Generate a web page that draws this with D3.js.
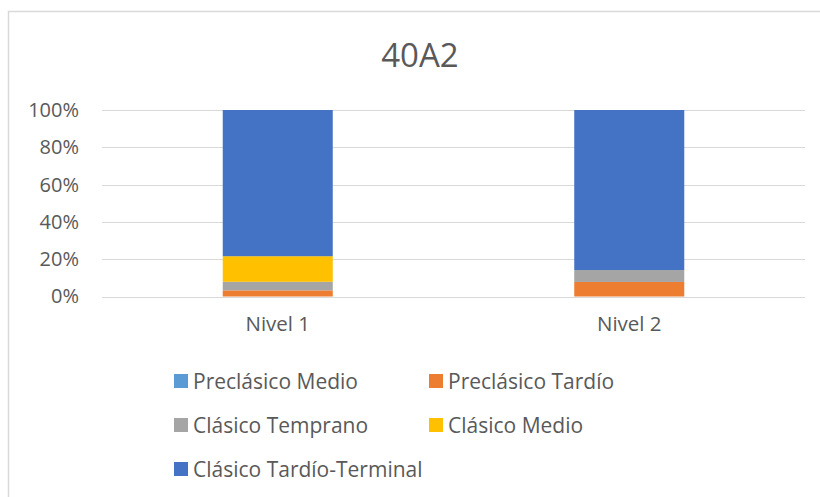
<!DOCTYPE html>
<html><head><meta charset="utf-8">
<script src="https://cdn.jsdelivr.net/npm/d3@7"></script>
<style>body{margin:0;background:#fff;} svg{display:block;font-family:"Open Sans",sans-serif;}</style>
</head><body>
<svg id="chart" width="820" height="497"></svg>
<script>
const categories = ["Nivel 1", "Nivel 2"];
const seriesNames = ["Preclásico Medio", "Preclásico Tardío", "Clásico Temprano", "Clásico Medio", "Clásico Tardío-Terminal"];
const seriesColors = ["#5B9BD5", "#ED7D31", "#A5A5A5", "#FFC000", "#4472C4"];
const preclasicoMedio = [0, 0];
const preclasicoTardio = [3.3, 7.8];
const clasicoTemprano = [4.6, 6.4];
const clasicoMedio = [13.7, 0];
const clasicoTardioTerminal = [78.4, 85.8];
const tickLabels = ["0%", "20%", "40%", "60%", "80%", "100%"];
const tickValues = [0, 20, 40, 60, 80, 100];

(function () {
const seriesValues = [preclasicoMedio, preclasicoTardio, clasicoTemprano, clasicoMedio, clasicoTardioTerminal];
const rows = categories.map((c, i) => {
  const r = {cat: c};
  seriesNames.forEach((s, j) => r[s] = seriesValues[j][i]);
  return r;
});
const stacked = d3.stack().keys(seriesNames)(rows);

const svg = d3.select("#chart");
const txt = "#595959";
svg.append("path").attr("d", "M8.5,497 L8.5,11.5 L820,11.5").attr("fill", "none").attr("stroke", "#d9d9d9").attr("stroke-width", 1.5);

const pL = 102, pR = 805, pT = 110, pB = 296.5;
const x = d3.scaleBand().domain(categories).range([pL, pR]).padding(0);
const y = d3.scaleLinear().domain([0, 100]).range([pB, pT]);
const barW = x.bandwidth() * 0.313;

svg.append("text").attr("x", 420).attr("y", 67).attr("text-anchor", "middle")
  .attr("font-size", 33).attr("fill", txt).text("40A2");

svg.append("g").selectAll("line").data(tickValues).join("line")
  .attr("x1", pL).attr("x2", pR)
  .attr("y1", d => Math.round(y(d)) + 0.5).attr("y2", d => Math.round(y(d)) + 0.5)
  .attr("stroke", "#d9d9d9").attr("stroke-width", 1);

const yAxis = d3.axisLeft(y).tickValues(tickValues).tickFormat((d, i) => tickLabels[i]).tickSize(0).tickPadding(0);
const ya = svg.append("g").attr("transform", `translate(${pL - 23},0)`).call(yAxis);
ya.select(".domain").remove();
ya.selectAll("text").attr("font-size", 20).attr("fill", txt).attr("font-family", "'Open Sans',sans-serif");

svg.append("g").selectAll("g").data(stacked).join("g")
  .attr("fill", (d, i) => seriesColors[i])
  .selectAll("rect").data(d => d).join("rect")
  .attr("x", d => x(d.data.cat) + (x.bandwidth() - barW) / 2)
  .attr("width", barW)
  .attr("y", d => y(d[1]))
  .attr("height", d => Math.max(0, y(d[0]) - y(d[1])));

const xAxis = d3.axisBottom(x).tickSize(0).tickPadding(0);
const xa = svg.append("g").attr("transform", `translate(0,${pB + 20})`).call(xAxis);
xa.select(".domain").remove();
xa.selectAll("text").attr("font-size", 20.5).attr("fill", txt).attr("font-family", "'Open Sans',sans-serif");

const legendPos = [[174, 381], [429, 381], [174, 425], [429, 425], [174, 469]];
const lg = svg.append("g").selectAll("g").data(seriesNames).join("g")
  .attr("transform", (d, i) => `translate(${legendPos[i][0]},${legendPos[i][1]})`);
lg.append("rect").attr("x", 0).attr("y", -7).attr("width", 14).attr("height", 14)
  .attr("fill", (d, i) => seriesColors[i]);
lg.append("text").attr("x", 19).attr("y", 7.5).attr("font-size", 21).attr("fill", txt).text(d => d);
})();
</script>
</body></html>
